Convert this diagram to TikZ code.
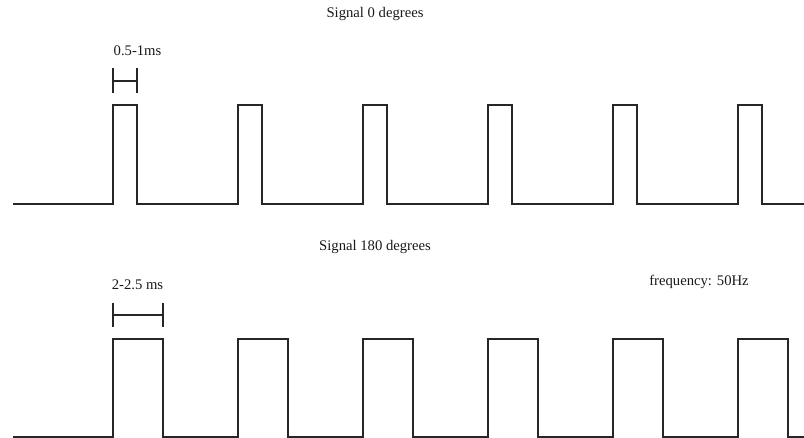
\documentclass[tikz,border=0pt]{standalone}
\usepackage{fontspec}
\setmainfont{Liberation Serif}
\begin{document}
\begin{tikzpicture}[x=0.75pt,y=-0.75pt,
  wave/.style={draw=black!85,line width=0.8pt,line join=miter},
  dimbar/.style={draw=black!85,line width=0.8pt},
  lbl/.style={inner sep=0pt,font=\fontsize{11}{13}\selectfont,text=black!90}]
\useasboundingbox (0,0) rectangle (804,438);
% titles and labels
\node[lbl] (t0) at (375,14) {Signal 0 degrees};
\node[lbl] (t180) at (375,247) {Signal 180 degrees};
\node[lbl] (freq) at (699,282) {frequency: 50Hz};
\node[lbl] (d0) at (137.5,51) {0.5-1ms};
\node[lbl] (d180) at (137.5,285) {2-2.5 ms};
% dimension bars
\draw[dimbar] (113,68) -- (113,93) (137,68) -- (137,93) (113,81) -- (137,81);
\draw[dimbar] (113,303) -- (113,327) (163,303) -- (163,327) (113,315) -- (163,315);
% top waveform (narrow pulses)
\draw[wave] (13,204)
  \foreach \i in {0,...,5} {
    -- ({113+125*\i},204) -- ({113+125*\i},105) -- ({137+125*\i},105) -- ({137+125*\i},204)
  } -- (804,204);
% bottom waveform (wide pulses)
\draw[wave] (13,437)
  \foreach \i in {0,...,5} {
    -- ({113+125*\i},437) -- ({113+125*\i},339) -- ({163+125*\i},339) -- ({163+125*\i},437)
  } -- (804,437);
\end{tikzpicture}
\end{document}
